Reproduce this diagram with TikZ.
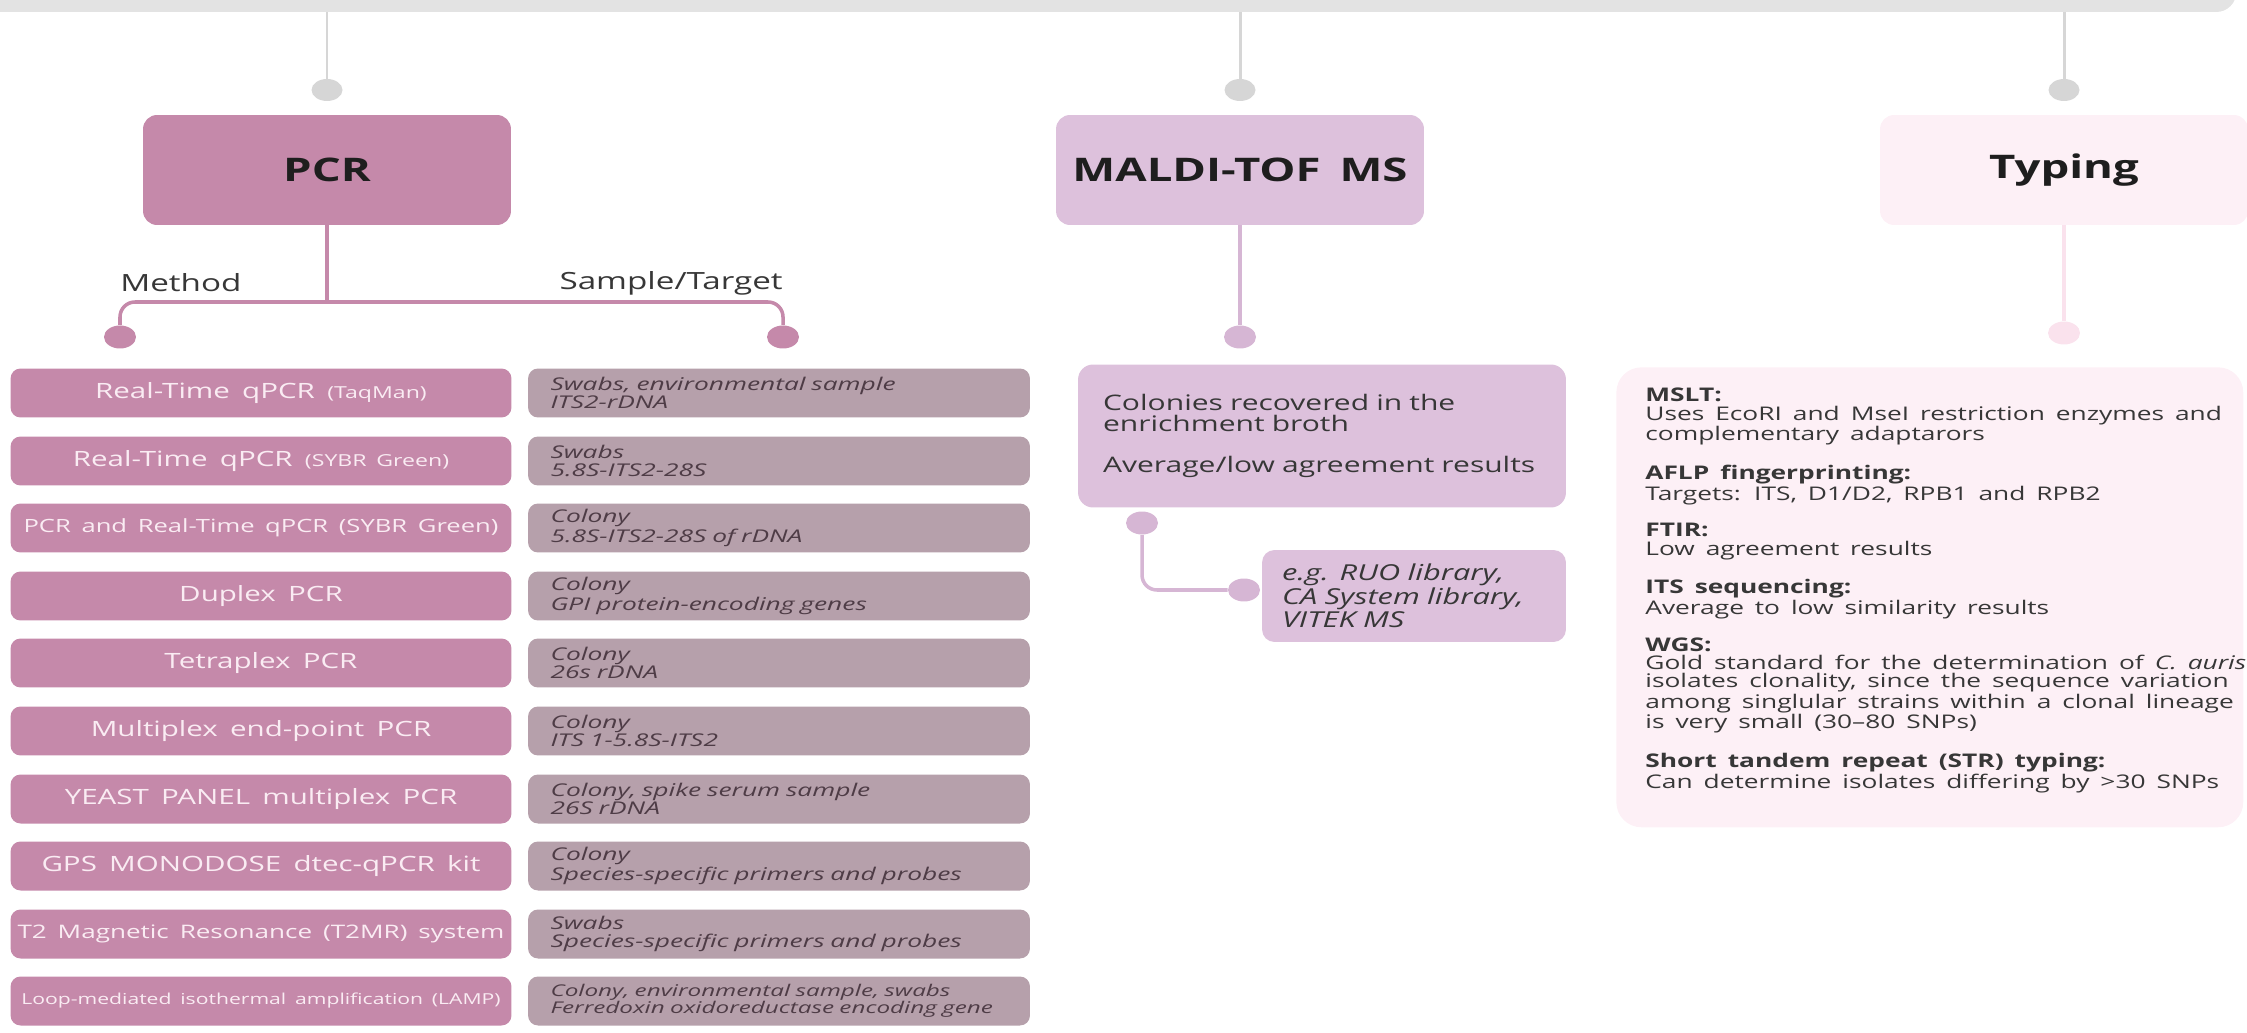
\documentclass[tikz,border=0pt]{standalone}
\usepackage{fontspec}
\setmainfont{Open Sans}[FakeStretch=1.4,WordSpace=1.6]
\newfontfamily\sampfont{Open Sans}[FakeStretch=1.5,WordSpace=1.7]
\usepackage{tikz}
\usetikzlibrary{shapes.geometric,positioning}

\definecolor{barcol}{RGB}{227,227,227}
\definecolor{dotgray}{RGB}{214,214,214}
\definecolor{pcrcol}{RGB}{197,137,170}
\definecolor{sampcol}{RGB}{182,160,171}
\definecolor{maldicol}{RGB}{221,193,220}
\definecolor{maldiline}{RGB}{214,182,212}
\definecolor{typcol}{RGB}{253,240,246}
\definecolor{typline}{RGB}{250,226,237}
\definecolor{darktxt}{RGB}{30,30,30}
\definecolor{labtxt}{RGB}{55,55,55}
\definecolor{methtxt}{RGB}{250,236,243}
\definecolor{samptxt}{RGB}{78,60,70}

\begin{document}
\begin{tikzpicture}[x=0.02cm,y=-0.02cm,
head/.style={rectangle,rounded corners=0.28cm,minimum width=7.36cm,minimum height=2.2cm,
  font=\fontsize{18.5}{20}\selectfont\bfseries,text=darktxt},
meth/.style={rectangle,rounded corners=0.2cm,fill=pcrcol,minimum width=10.02cm,
  minimum height=0.98cm,inner sep=0pt,font=\fontsize{12}{13}\selectfont,text=methtxt},
samp/.style={rectangle,rounded corners=0.2cm,fill=sampcol,minimum height=0.98cm,
  text width=9.14cm,inner xsep=0.45cm,inner ysep=0pt,align=left,
  font=\sampfont\fontsize{10}{10}\selectfont\itshape,text=samptxt},
lab/.style={font=\fontsize{13.5}{15}\selectfont,text=labtxt,inner sep=0pt},
gdot/.style={ellipse,fill=dotgray,minimum width=0.62cm,minimum height=0.44cm,inner sep=0pt},
pdot/.style={ellipse,minimum width=0.64cm,minimum height=0.46cm,inner sep=0pt},
gline/.style={draw=dotgray,line width=1.7pt},
pline/.style={draw=pcrcol,line width=2pt},
mline/.style={draw=maldiline,line width=2pt}]
\useasboundingbox (0,0) rectangle (2247,1033);
\clip (0,0) rectangle (2247,1033);

% top bar and the three branches
\node (bar) at (1108,-14) [rectangle,fill=barcol,rounded corners=0.4cm,
  minimum width=45.14cm,minimum height=1.04cm] {};
\node (gd1) at (327,90) [gdot] {};
\node (gd2) at (1240,90) [gdot] {};
\node (gd3) at (2064,90) [gdot] {};
\draw[gline] (bar.south -| gd1) -- (gd1);
\draw[gline] (bar.south -| gd2) -- (gd2);
\draw[gline] (bar.south -| gd3) -- (gd3);

\node (pcr) at (327,170) [head,fill=pcrcol] {PCR};
\node (maldi) at (1240,170) [head,fill=maldicol] {MALDI-TOF MS};
\node (typ) at (2064,170) [head,fill=typcol] {Typing};

% PCR
\coordinate (br) at (327,302);
\node (mlab) at (120,283) [anchor=west,lab] {Method};
\node (slab) at (783,283) [anchor=east,lab] {Sample/Target};
\node (mdot) at (120,337) [pdot,fill=pcrcol] {};
\node (sdot) at (783,337) [pdot,fill=pcrcol] {};
\draw[pline] (pcr) -- (br);
\draw[pline,rounded corners=0.3cm] (mdot) |- (br) -| (sdot);

\node (m1) at (261,393) [meth] {Real-Time qPCR {\fontsize{9.4}{10}\selectfont(TaqMan)}};
\node (m2) at (261,461) [meth] {Real-Time qPCR {\fontsize{9.4}{10}\selectfont(SYBR Green)}};
\node (m3) at (261,528) [meth,font=\fontsize{10.4}{12}\selectfont] {PCR and Real-Time qPCR (SYBR Green)};
\node (m4) at (261,596) [meth] {Duplex PCR};
\node (m5) at (261,663) [meth] {Tetraplex PCR};
\node (m6) at (261,731) [meth] {Multiplex end-point PCR};
\node (m7) at (261,799) [meth] {YEAST PANEL multiplex PCR};
\node (m8) at (261,866) [meth] {GPS MONODOSE dtec-qPCR kit};
\node (m9) at (261,934) [meth,font=\fontsize{10.6}{12}\selectfont] {T2 Magnetic Resonance (T2MR) system};
\node (m10) at (261,1001) [meth,font=\fontsize{8.6}{10}\selectfont] {Loop-mediated isothermal amplification (LAMP)};

\node (s1) at (779,393) [samp] {Swabs, environmental sample\\ITS2-rDNA};
\node (s2) at (779,461) [samp] {Swabs\\5.8S-ITS2-28S};
\node (s3) at (779,528) [samp] {Colony\\5.8S-ITS2-28S of rDNA};
\node (s4) at (779,596) [samp] {Colony\\GPI protein-encoding genes};
\node (s5) at (779,663) [samp] {Colony\\26s rDNA};
\node (s6) at (779,731) [samp] {Colony\\ITS 1-5.8S-ITS2};
\node (s7) at (779,799) [samp] {Colony, spike serum sample\\26S rDNA};
\node (s8) at (779,866) [samp] {Colony\\Species-specific primers and probes};
\node (s9) at (779,934) [samp] {Swabs\\Species-specific primers and probes};
\node (s10) at (779,1001) [samp,font=\sampfont\fontsize{9.2}{10}\selectfont\itshape]
  {Colony, environmental sample, swabs\\Ferredoxin oxidoreductase encoding gene};

% MALDI-TOF MS
\node (mdot1) at (1240,337) [pdot,fill=maldiline] {};
\draw[mline] (maldi) -- (mdot1);
\node (mbody) at (1322,436) [rectangle,fill=maldicol,rounded corners=0.3cm,
  text width=8.76cm,inner xsep=0.5cm,minimum height=2.86cm,align=left,
  font=\fontsize{12.2}{11.4}\selectfont,text=labtxt]
  {Colonies recovered in the\\enrichment broth\\[12pt]Average/low agreement results};
\node (mdot2) at (1142,523) [pdot,fill=maldiline] {};
\node (edot) at (1244,590) [pdot,fill=maldiline] {};
\node (eg) at (1414,596) [rectangle,fill=maldicol,rounded corners=0.25cm,
  text width=5.28cm,inner xsep=0.4cm,minimum height=1.84cm,align=left,
  font=\fontsize{12.5}{12}\selectfont\itshape,text=labtxt]
  {e.g. RUO library,\\CA System library,\\VITEK MS};
\draw[mline,rounded corners=0.3cm] (mdot2) |- (edot);

% Typing
\node (tdot) at (2064,333) [pdot,fill=typline] {};
\draw[draw=typline,line width=2pt] (typ) -- (tdot);
\node (tbox) at (1616,367) [anchor=north west,rectangle,fill=typcol,rounded corners=0.5cm,
  minimum width=12.54cm,minimum height=9.2cm] {};
\node (ttext) at (1645,388) [anchor=north west,align=left,inner sep=0pt,
  font=\fontsize{10.7}{10.4}\selectfont,text=labtxt]
  {\textbf{MSLT:}\\
   Uses EcoRI and MseI restriction enzymes and\\
   complementary adaptarors\\[10.4pt]
   \textbf{AFLP fingerprinting:}\\
   Targets: ITS, D1/D2, RPB1 and RPB2\\[10.4pt]
   \textbf{FTIR:}\\
   Low agreement results\\[10.4pt]
   \textbf{ITS sequencing:}\\
   Average to low similarity results\\[10.4pt]
   \textbf{WGS:}\\
   Gold standard for the determination of \textit{C. auris}\\
   isolates clonality, since the sequence variation\\
   among singlular strains within a clonal lineage\\
   is very small (30–80 SNPs)\\[10.4pt]
   \textbf{Short tandem repeat (STR) typing:}\\
   Can determine isolates differing by >30 SNPs};
\end{tikzpicture}
\end{document}
